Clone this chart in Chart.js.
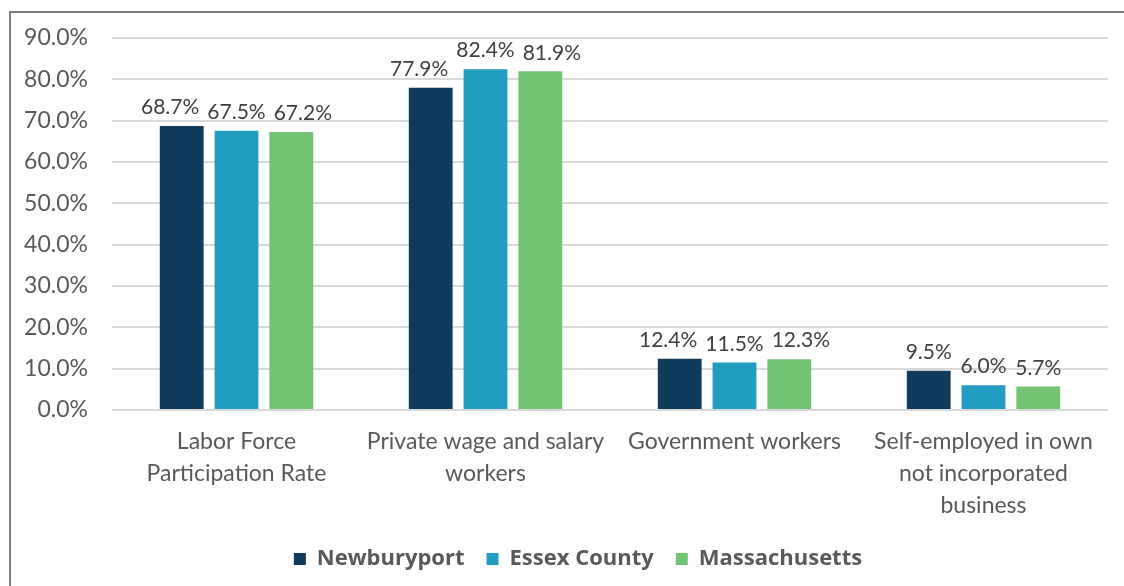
<!DOCTYPE html>
<html>
<head>
<meta charset="utf-8">
<script src="https://cdn.jsdelivr.net/npm/chart.js@4"></script>
<style>
  html, body { margin: 0; padding: 0; background: #fff; }
  #wrap { position: relative; width: 1124px; height: 586px; overflow: hidden; }
  #frame {
    position: absolute; left: 9px; top: 11px; width: 1200px; height: 700px;
    border-top: 2px solid #7f7f7f; border-left: 2px solid #7f7f7f;
  }
  canvas { position: absolute; left: 0; top: 0; }
</style>
</head>
<body>
<div id="wrap">
  <div id="frame"></div>
  <canvas id="chart" width="1124" height="586"></canvas>
</div>
<script>
const categories = [
  ["Labor Force", "Participation Rate"],
  ["Private wage and salary", "workers"],
  ["Government workers"],
  ["Self-employed in own", "not incorporated", "business"],
];
const newburyport = [68.7, 77.9, 12.4, 9.5];
const essexCounty = [67.5, 82.4, 11.5, 6.0];
const massachusetts = [67.2, 81.9, 12.3, 5.7];
const yTicks = [0, 10, 20, 30, 40, 50, 60, 70, 80, 90];

const fontFamily = 'Lato, "Open Sans", sans-serif';
const textColor = "#595959";

// value labels above each bar, pushed sideways when they would collide
const barLabels = {
  id: "barLabels",
  afterDatasetsDraw(chart) {
    const ctx = chart.ctx;
    const gap = 8;
    ctx.save();
    ctx.font = "21px " + fontFamily;
    ctx.fillStyle = "#404040";
    ctx.textAlign = "center";
    ctx.textBaseline = "bottom";
    const metas = chart.data.datasets.map((ds, i) => chart.getDatasetMeta(i));
    chart.data.labels.forEach((cat, j) => {
      const items = chart.data.datasets.map((ds, i) => {
        const bar = metas[i].data[j];
        const text = ds.data[j].toFixed(1) + "%";
        return { text, x: bar.x, y: bar.y, w: ctx.measureText(text).width };
      });
      const mid = items[1];
      const left = items[0];
      const right = items[2];
      const midL = mid.x - mid.w / 2;
      const midR = mid.x + mid.w / 2;
      if (left.x + left.w / 2 > midL - gap) left.x = midL - gap - left.w / 2;
      if (right.x - right.w / 2 < midR + gap) right.x = midR + gap + right.w / 2;
      items.forEach((it) => ctx.fillText(it.text, it.x, it.y - 8));
    });
    ctx.restore();
  },
};

// legend sits a little right of the centre in the original
const legendShift = {
  id: "legendShift",
  afterLayout(chart) {
    chart.legend.left += 24;
    chart.legend.right += 24;
  },
};

new Chart(document.getElementById("chart"), {
  type: "bar",
  data: {
    labels: categories,
    datasets: [
      { label: "Newburyport", data: newburyport, backgroundColor: "#103b5c" },
      { label: "Essex County", data: essexCounty, backgroundColor: "#209dc0" },
      { label: "Massachusetts", data: massachusetts, backgroundColor: "#73c375" },
    ],
  },
  options: {
    responsive: false,
    animation: false,
    layout: { padding: { top: 31, right: 16, bottom: 6, left: 0 } },
    datasets: { bar: { categoryPercentage: 0.66, barPercentage: 0.8 } },
    plugins: {
      tooltip: { enabled: false },
      legend: {
        position: "bottom",
        labels: {
          color: textColor,
          boxWidth: 12,
          boxHeight: 12,
          padding: 22,
          font: { size: 22, weight: "bold", family: '"Open Sans", sans-serif' },
        },
      },
    },
    scales: {
      x: {
        grid: { display: false },
        border: { display: false },
        ticks: {
          color: textColor,
          maxRotation: 0,
          padding: 7,
          font: { size: 23, family: fontFamily, lineHeight: 1.4 },
        },
        afterFit(scale) { scale.height = 116; },
      },
      y: {
        min: 0,
        max: 90,
        afterBuildTicks(scale) { scale.ticks = yTicks.map((v) => ({ value: v })); },
        grid: { color: "#d9d9d9", lineWidth: 2, drawTicks: false },
        border: { display: false },
        ticks: {
          color: textColor,
          padding: 24,
          font: { size: 23, family: fontFamily },
          callback: (v) => v.toFixed(1) + "%",
        },
        afterFit(scale) { scale.width = 112; },
      },
    },
  },
  plugins: [barLabels, legendShift],
});
</script>
</body>
</html>
